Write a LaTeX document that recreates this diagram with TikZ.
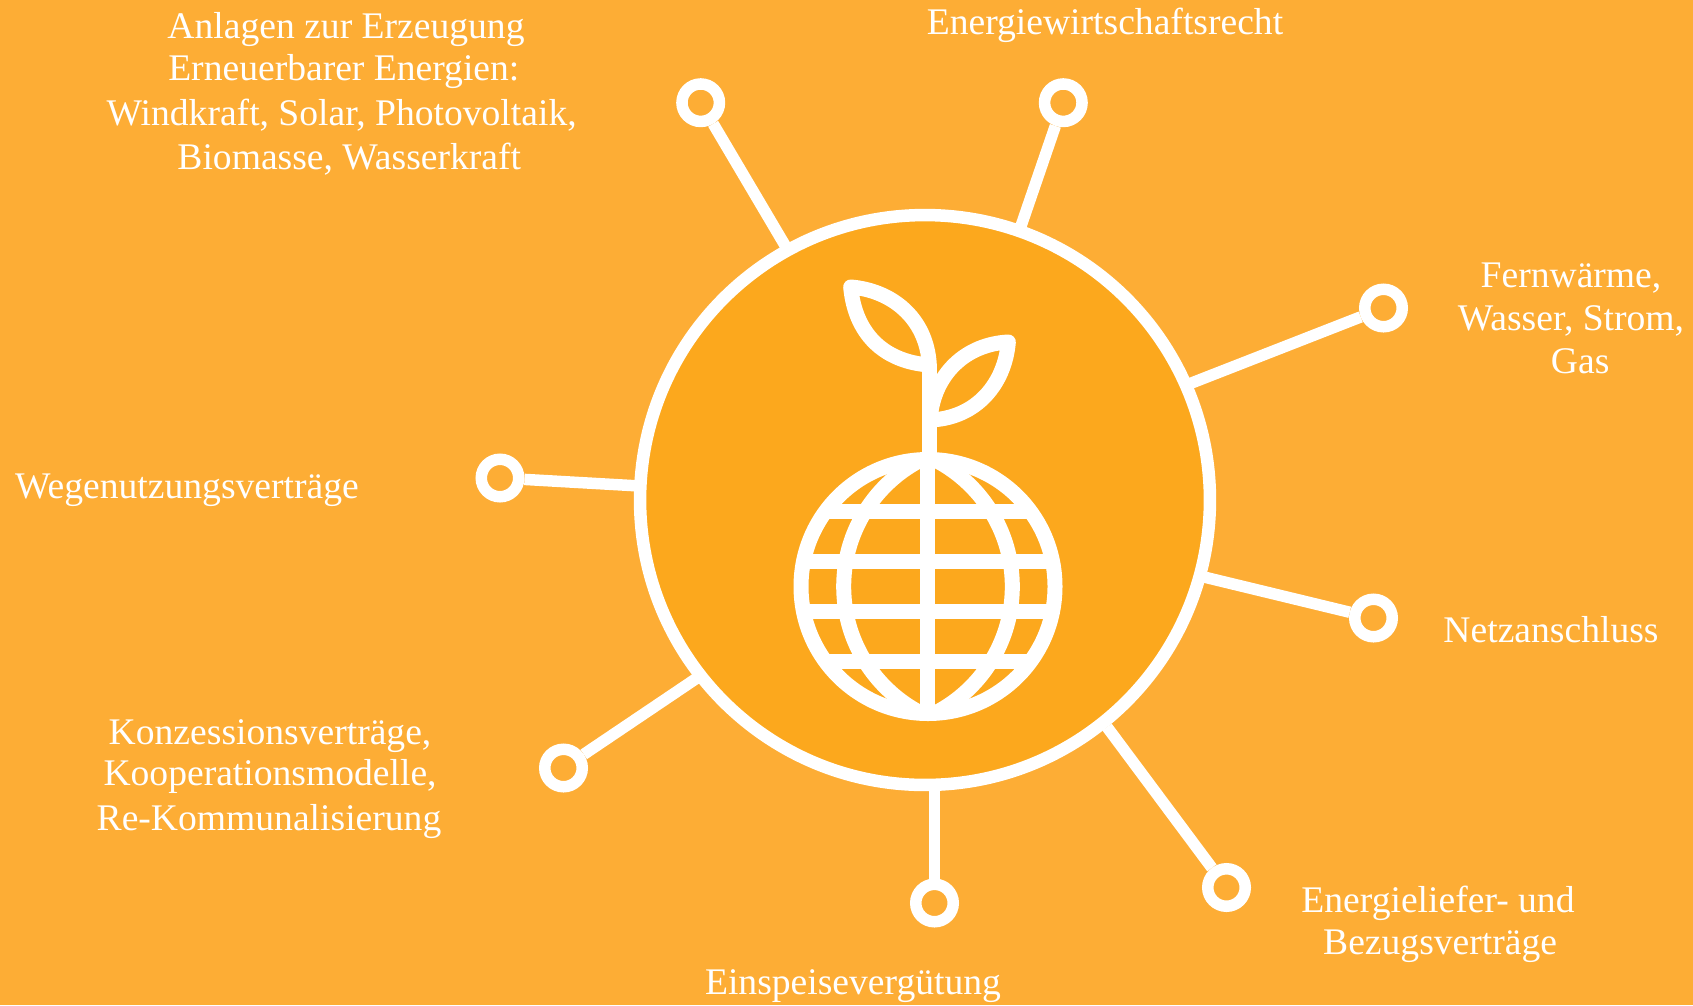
\documentclass[tikz,border=0pt]{standalone}
\usepackage{fontspec}
\setmainfont{Liberation Serif}
\definecolor{bgc}{HTML}{FDAD35}
\definecolor{hubc}{HTML}{FCA81D}
\tikzset{
  x=0.02cm,y=-0.02cm,
  hub/.style={circle,draw=white,fill=hubc,line width=0.25cm,minimum size=11.4cm,inner sep=0pt},
  ring/.style={circle,draw=white,line width=0.23cm,minimum size=0.75cm,inner sep=0pt},
  link/.style={draw=white,line width=0.23cm},
  label/.style={text=white,align=center,inner sep=0pt,font=\fontsize{21.4}{25.5}\selectfont},
  ico/.style={draw=white,line width=0.3cm,line join=round},
}
\begin{document}
\begin{tikzpicture}
\useasboundingbox (0,0) rectangle (1693,1005);
\fill[bgc] (0,0) rectangle (1693,1005);
\node[hub] (hub) at (925,500) {};
\node[ring] (r1) at (700.7,102.7) {};
\node[ring] (r2) at (1063.3,102.7) {};
\node[ring] (r3) at (1383.5,308) {};
\node[ring] (r4) at (1373.5,618) {};
\node[ring] (r5) at (1226.5,887.5) {};
\node[ring] (r6) at (934.5,903) {};
\node[ring] (r7) at (563.5,768) {};
\node[ring] (r8) at (500,478) {};
\coordinate (e1) at (786,247);
\coordinate (e2) at (1021,226);
\coordinate (e3) at (1189,384);
\coordinate (e4) at (1204,577);
\coordinate (e5) at (1107,727);
\coordinate (e6) at (934.5,786);
\coordinate (e7) at (697,678);
\coordinate (e8) at (640,486);
\foreach \i in {1,...,8} \draw[link] (r\i) -- (e\i);
% globe
\begin{scope}
\clip (928,586.5) circle [radius=130];
\foreach \yy in {511.7,561.3,611.7,661.7}
  \draw[ico] (780,\yy) -- (1080,\yy);
\draw[ico] (870,586.5) circle [radius=142.3];
\draw[ico] (986,586.5) circle [radius=142.3];
\end{scope}
\draw[ico] (928,586.5) circle [radius=127];
\draw[ico] (927.7,459) -- (927.7,714);
% sprout, in 3x zoom coordinates
\begin{scope}[shift={(760,250)},scale=1/3]
\draw[ico] (508,612) -- (508,345);
\draw[ico] (272,111) .. controls (390,120) and (500,200) .. (508,345)
   .. controls (370,335) and (285,250) .. (272,111) -- cycle;
\draw[ico] (745,276) .. controls (620,282) and (520,370) .. (510,510)
   .. controls (650,505) and (735,400) .. (745,276) -- cycle;
\end{scope}
% labels
\node[label] (t1) at (341.7,94) {\hspace{4.9pt}Anlagen zur Erzeugung\\[-1.7pt]\hspace{2.4pt}Erneuerbarer Energien:\\Windkraft, Solar, Photovoltaik,\\\hspace{8.6pt}Biomasse, Wasserkraft};
\node[label] (t2) at (1105,25) {Energiewirtschaftsrecht};
\node[label] (t3) at (1571,318) {Fernwärme,\\[-1pt]Wasser, Strom,\\[-1pt]\hspace{10.4pt}Gas};
\node[label] (t4) at (1551,630) {Netzanschluss};
\node[label] (t5) at (1438,924) {Energieliefer- und\\[-1.7pt]\hspace{2.4pt}Bezugsverträge};
\node[label] (t6) at (853,986) {Einspeisevergütung};
\node[label] (t7) at (269,779) {\hspace{1.2pt}Konzessionsverträge,\\[-1.7pt]\hspace{1.2pt}Kooperationsmodelle,\\Re-Kommunalisierung};
\node[label] (t8) at (187,490) {Wegenutzungsverträge};
\end{tikzpicture}
\end{document}
